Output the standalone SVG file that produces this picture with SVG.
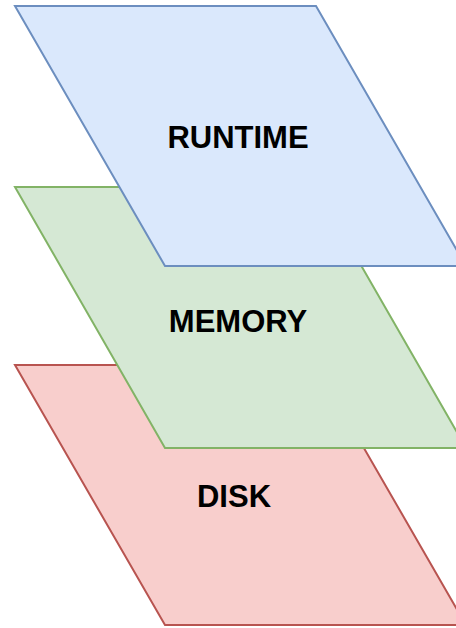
<svg xmlns="http://www.w3.org/2000/svg" width="456" height="628" viewBox="0 0 456 628">
<style>
.lbl{font-family:"Liberation Sans",Arial,sans-serif;font-weight:bold;font-size:31px;fill:#000;text-anchor:middle}
.s{stroke-width:2;stroke-linejoin:miter}
</style>
<rect width="456" height="628" fill="#fff"/>
<g id="disk">
<polygon class="s" points="15,365 316,365 466,625 165,625" fill="#f8cecc" stroke="#b85450"/>
<text class="lbl" x="234" y="507">DISK</text>
</g>
<g id="memory">
<polygon class="s" points="15,187 316,187 466,448 165,448" fill="#d5e8d4" stroke="#82b366"/>
<text class="lbl" x="238" y="332">MEMORY</text>
</g>
<g id="runtime">
<polygon class="s" points="15,6 316,6 466,266 165,266" fill="#dae8fc" stroke="#6c8ebf"/>
<text class="lbl" x="238" y="148">RUNTIME</text>
</g>
<g id="connectors"/>
</svg>
